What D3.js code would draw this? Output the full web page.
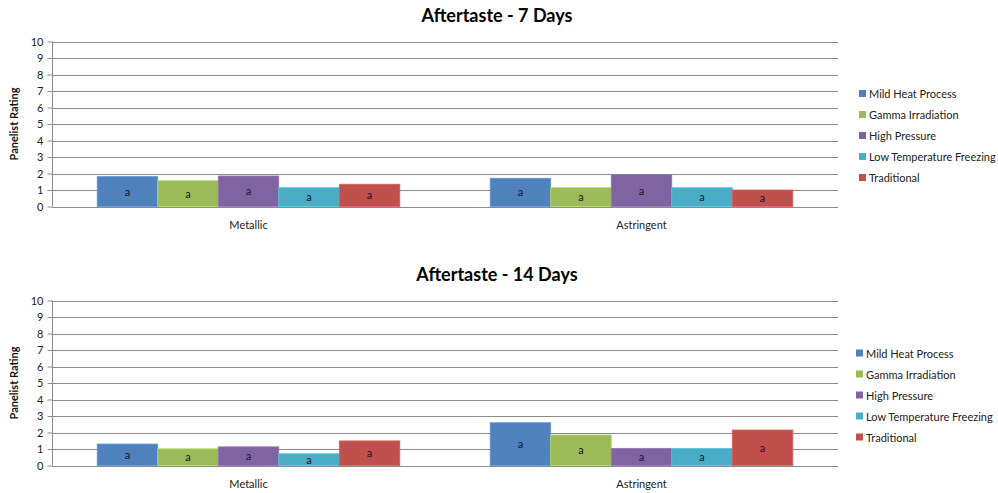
<!DOCTYPE html>
<html><head><meta charset="utf-8">
<script src="https://cdn.jsdelivr.net/npm/d3@7"></script>
<style>
body{margin:0;background:#fff;}
svg{display:block;font-family:Lato,"Open Sans",sans-serif;}
</style></head>
<body><svg id="c" width="998" height="493"></svg>
<script>
const categories = ["Metallic", "Astringent"];
const seriesNames = ["Mild Heat Process", "Gamma Irradiation", "High Pressure", "Low Temperature Freezing", "Traditional"];
const seriesColors = ["#4F81BD", "#9BBB59", "#8064A2", "#4BACC6", "#C0504D"];
const days7 = [[1.81, 1.71], [1.56, 1.14], [1.85, 1.93], [1.14, 1.14], [1.35, 1.0]];
const days14 = [[1.30, 2.59], [1.01, 1.85], [1.13, 1.04], [0.71, 1.04], [1.49, 2.15]];
const letters7 = [["a","a"],["a","a"],["a","a"],["a","a"],["a","a"]];
const letters14 = [["a","a"],["a","a"],["a","a"],["a","a"],["a","a"]];
const yTicks = [0,1,2,3,4,5,6,7,8,9,10];
const titles = ["Aftertaste - 7 Days", "Aftertaste - 14 Days"];

const svg = d3.select("#c");

function drawChart(cfg){
  const g = svg.append("g");
  const y = d3.scaleLinear().domain([0,10]).range([cfg.y0, cfg.y10]);
  const x0 = d3.scaleBand().domain(categories).range([cfg.xl, cfg.xr]).paddingInner(0.23).paddingOuter(0.115);
  const x1 = d3.scaleBand().domain(seriesNames).range([0, x0.bandwidth()]);

  g.append("text").attr("x", 497).attr("y", cfg.titleY).attr("text-anchor","middle")
    .style("font-size","18px").style("font-weight","bold").attr("fill","#000").text(cfg.title);

  g.selectAll(".grid").data(yTicks).join("line")
    .attr("x1", cfg.xl).attr("x2", cfg.xr)
    .attr("y1", d=>Math.round(y(d))+0.5).attr("y2", d=>Math.round(y(d))+0.5)
    .attr("stroke", "#8c8c8c").attr("stroke-width",1);

  const ax = g.append("g").attr("transform", `translate(${cfg.xl+0.5},0)`)
    .call(d3.axisLeft(y).tickValues(yTicks).tickSize(5).tickPadding(4).tickFormat(d3.format("d")));
  ax.select(".domain").attr("stroke","#8c8c8c").attr("d", `M-0,${cfg.y0}V${cfg.y10}`);
  ax.selectAll(".tick line").attr("stroke","#8c8c8c");
  ax.selectAll(".tick text").style("font-size","11px").style("font-family","Lato, sans-serif").attr("fill","#222");

  g.append("text").attr("transform", `translate(18,${(cfg.y0+cfg.y10)/2}) rotate(-90)`)
    .attr("text-anchor","middle").style("font-size","11px").style("font-weight","bold").attr("fill","#111")
    .text("Panelist Rating");

  const rows = [];
  seriesNames.forEach((s,i)=>categories.forEach((c,j)=>rows.push({s, c, v: cfg.data[i][j], l: cfg.letters[i][j], col: seriesColors[i]})));

  g.selectAll(".bar").data(rows).join("rect")
    .attr("x", d=>x0(d.c)+x1(d.s)).attr("width", x1.bandwidth())
    .attr("y", d=>y(d.v)).attr("height", d=>y(0)-y(d.v))
    .attr("fill", d=>d.col).attr("stroke", d=>d3.color(d.col).brighter(0.4)).attr("stroke-width",0.8);

  g.selectAll(".lbl").data(rows).join("text")
    .attr("x", d=>x0(d.c)+x1(d.s)+x1.bandwidth()/2)
    .attr("y", d=>(y(d.v)+y(0))/2+4)
    .attr("text-anchor","middle").style("font-size","11px").attr("fill","#141428").text(d=>d.l);

  g.selectAll(".cat").data(categories).join("text")
    .attr("x", d=>x0(d)+x0.bandwidth()/2).attr("y", cfg.y0+22)
    .attr("text-anchor","middle").style("font-size","11px").attr("fill","#222").text(d=>d);

  const lg = g.append("g");
  seriesNames.forEach((s,i)=>{
    const yy = cfg.legY + i*21;
    lg.append("rect").attr("x", cfg.legX).attr("y", yy-4).attr("width",7).attr("height",7).attr("fill", seriesColors[i]);
    lg.append("text").attr("x", cfg.legX+10).attr("y", yy+4).style("font-size","11px").attr("fill","#222").text(s);
  });
}

drawChart({title: titles[0], titleY: 22, data: days7, letters: letters7, xl: 52, xr: 838, y0: 206.5, y10: 41.5, legX: 859, legY: 94});
drawChart({title: titles[1], titleY: 281, data: days14, letters: letters14, xl: 52, xr: 838, y0: 465.5, y10: 300.5, legX: 856, legY: 353.5});
</script></body></html>
